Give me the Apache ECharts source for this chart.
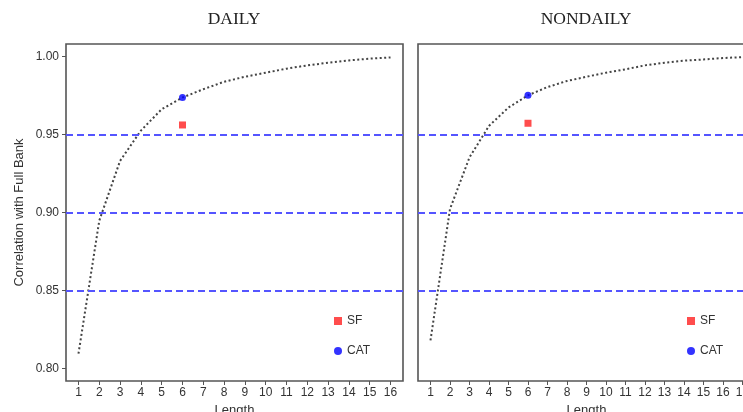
<!DOCTYPE html>
<html>
<head>
<meta charset="utf-8">
<script src="https://cdn.jsdelivr.net/npm/echarts@6/dist/echarts.min.js"></script>
<style>
html,body{margin:0;padding:0;background:#fff;}
#main{width:743px;height:412px;}
</style>
</head>
<body>
<div id="main"></div>
<script>
// ---- data ----
const panelTitles = ['DAILY', 'NONDAILY'];
const dailyLength = [1,2,3,4,5,6,7,8,9,10,11,12,13,14,15,16];
const dailyCorr = [0.8095,0.8948,0.9331,0.9525,0.9662,0.9737,0.9790,0.9838,0.9870,0.9896,0.9922,0.9943,0.9960,0.9975,0.9986,0.9994];
const nondailyLength = [1,2,3,4,5,6,7,8,9,10,11,12,13,14,15,16,17];
const nondailyCorr = [0.8180,0.9022,0.9353,0.9555,0.9673,0.9751,0.9804,0.9843,0.9870,0.9896,0.9918,0.9943,0.9960,0.9973,0.9981,0.9990,0.9996];
const dailySF = [[6, 0.9561]];
const dailyCAT = [[6, 0.9737]];
const nondailySF = [[6, 0.9572]];
const nondailyCAT = [[6, 0.9751]];
const refLines = [0.85, 0.90, 0.95];
const yTicks = [0.80, 0.85, 0.90, 0.95, 1.00];
const xTicksDaily = dailyLength;
const xTicksNondaily = nondailyLength;

// ---- chart ----
const chart = echarts.init(document.getElementById('main'), null, {renderer:'canvas'});
const FONT = '"Liberation Sans", Arial, sans-serif';
const textCol = '#333';
const frameCol = '#555';

function xAxis(idx, min, max, ticks) {
  return {
    type:'value', gridIndex:idx, min:min, max:max,
    name:'Length', nameLocation:'middle', nameGap:22,
    nameTextStyle:{fontFamily:FONT, fontSize:13, color:textCol},
    axisLine:{show:false},
    axisTick:{show:true, length:4, customValues:ticks, lineStyle:{color:frameCol, width:1}},
    axisLabel:{show:true, customValues:ticks, fontFamily:FONT, fontSize:12, color:textCol, margin:6},
    splitLine:{show:false}
  };
}
function yAxis(idx, showLabels) {
  return {
    type:'value', gridIndex:idx, min:0.792, max:1.008,
    name: showLabels ? 'Correlation with Full Bank' : '',
    nameLocation:'middle', nameGap:40,
    nameTextStyle:{fontFamily:FONT, fontSize:13, color:textCol},
    axisLine:{show:false},
    axisTick:{show:showLabels, length:4, customValues:yTicks, lineStyle:{color:frameCol, width:1}},
    axisLabel:{show:showLabels, customValues:yTicks, fontFamily:FONT, fontSize:12, color:textCol, margin:7,
      formatter:(v)=>v.toFixed(2)},
    splitLine:{show:false}
  };
}
function curve(idx, xs, ys) {
  return {
    type:'line', xAxisIndex:idx, yAxisIndex:idx,
    data: xs.map((x,i)=>[x, ys[i]]),
    showSymbol:false, symbol:'none', silent:true,
    lineStyle:{color:'#444', width:2, type:[2,2.5]},
    markLine:{
      silent:true, symbol:['none','none'], label:{show:false},
      lineStyle:{color:'#5555ff', width:1.8, type:[7,4]},
      data: refLines.map(v=>({yAxis:v}))
    },
    z:3
  };
}
function pts(idx, name, data, symbol, color, size) {
  return {
    type:'scatter', name:name, xAxisIndex:idx, yAxisIndex:idx,
    data:data, symbol:symbol, symbolSize:size,
    itemStyle:{color:color}, z:5
  };
}

const gridBase = {top:44, width:337, height:337, show:true, borderColor:frameCol, borderWidth:1.6,
  backgroundColor:'transparent', containLabel:false, outerBoundsMode:'none'};

const option = {
  backgroundColor:'#fff',
  animation:false,
  grid:[
    Object.assign({left:66}, gridBase),
    Object.assign({left:418}, gridBase)
  ],
  xAxis:[ xAxis(0, 0.4, 16.6, xTicksDaily), xAxis(1, 0.36, 17.64, xTicksNondaily) ],
  yAxis:[ yAxis(0, true), yAxis(1, false) ],
  legend:[
    {left:334, top:315, orient:'vertical', itemGap:18, itemWidth:8, itemHeight:8,
     data:[{name:'SF', icon:'rect'},{name:'CAT', icon:'circle'}],
     textStyle:{fontFamily:FONT, fontSize:12, color:textCol}, selectedMode:false, padding:0},
    {left:687, top:315, orient:'vertical', itemGap:18, itemWidth:8, itemHeight:8,
     data:[{name:'SF', icon:'rect'},{name:'CAT', icon:'circle'}],
     textStyle:{fontFamily:FONT, fontSize:12, color:textCol}, selectedMode:false, padding:0}
  ],
  graphic:[
    {type:'text', x:234, y:10, style:{text:panelTitles[0], font:'17.5px "Liberation Serif", "Times New Roman", serif', fill:'#222', align:'center'}},
    {type:'text', x:586, y:10, style:{text:panelTitles[1], font:'17.5px "Liberation Serif", "Times New Roman", serif', fill:'#222', align:'center'}}
  ],
  series:[
    curve(0, dailyLength, dailyCorr),
    curve(1, nondailyLength, nondailyCorr),
    pts(0, 'SF', dailySF, 'rect', '#ff2020', 7),
    pts(0, 'CAT', dailyCAT, 'circle', '#0000ff', 7),
    pts(1, 'SF', nondailySF, 'rect', '#ff2020', 7),
    pts(1, 'CAT', nondailyCAT, 'circle', '#0000ff', 7)
  ]
};
chart.setOption(option);
</script>
</body>
</html>
